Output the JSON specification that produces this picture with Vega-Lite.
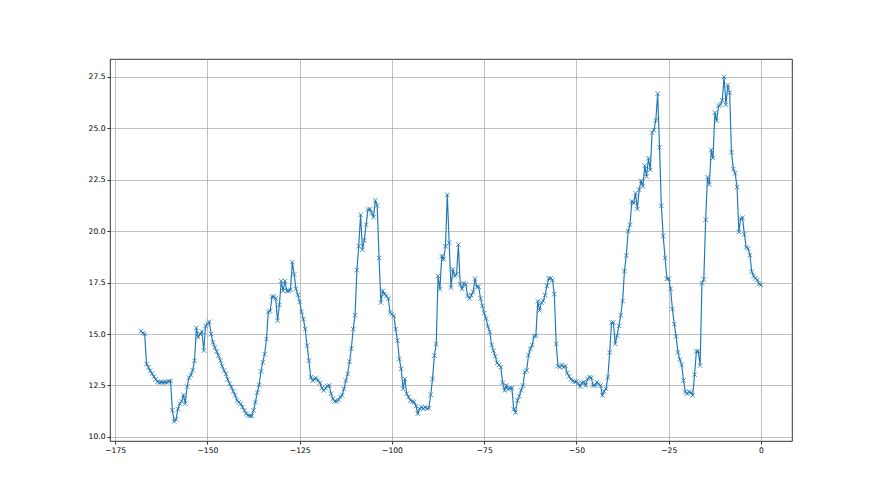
{
  "$schema": "https://vega.github.io/schema/vega-lite/v6.json",
  "width": 682,
  "height": 382,
  "autosize": {"type": "none"},
  "padding": {"left": 110, "top": 59, "right": 88, "bottom": 54},
  "background": "white",
  "config": {
    "view": {"stroke": "black", "strokeWidth": 0.8},
    "axis": {
      "labelFont": "DejaVu Sans",
      "labelFontSize": 7.6,
      "labelColor": "#000000",
      "tickColor": "#000000",
      "tickSize": 3,
      "tickWidth": 0.8,
      "gridColor": "#b0b0b0",
      "gridWidth": 0.8,
      "domain": false,
      "labelPadding": 2,
      "title": null
    }
  },
  "data": {
    "values": [
      {"x": -168, "y": 15.15}, {"x": -167.5, "y": 15.05}, {"x": -167, "y": 15.0}, {"x": -166.5, "y": 13.55}, {"x": -166, "y": 13.38}, {"x": -165.5, "y": 13.22}, {"x": -165, "y": 13.07}, {"x": -164.5, "y": 12.93}, {"x": -164, "y": 12.8}, {"x": -163.5, "y": 12.68}, {"x": -163, "y": 12.65}, {"x": -162.5, "y": 12.66}, {"x": -162, "y": 12.65}, {"x": -161.5, "y": 12.67}, {"x": -161, "y": 12.65}, {"x": -160.5, "y": 12.7}, {"x": -160, "y": 12.72}, {"x": -159.5, "y": 11.3}, {"x": -159, "y": 10.75}, {"x": -158.5, "y": 10.85}, {"x": -158, "y": 11.35}, {"x": -157.5, "y": 11.62}, {"x": -157, "y": 11.72}, {"x": -156.5, "y": 12.04}, {"x": -156, "y": 11.62}, {"x": -155.5, "y": 12.45}, {"x": -155, "y": 12.88}, {"x": -154.5, "y": 13.0}, {"x": -154, "y": 13.25}, {"x": -153.5, "y": 13.7}, {"x": -153, "y": 15.3}, {"x": -152.5, "y": 14.85}, {"x": -152, "y": 15.0}, {"x": -151.5, "y": 15.12}, {"x": -151, "y": 14.2}, {"x": -150.5, "y": 15.4}, {"x": -150, "y": 15.5}, {"x": -149.5, "y": 15.6}, {"x": -149, "y": 15.0}, {"x": -148.5, "y": 14.6}, {"x": -148, "y": 14.35}, {"x": -147.5, "y": 14.15}, {"x": -147, "y": 13.95}, {"x": -146.5, "y": 13.72}, {"x": -146, "y": 13.44}, {"x": -145.5, "y": 13.23}, {"x": -145, "y": 13.06}, {"x": -144.5, "y": 12.79}, {"x": -144, "y": 12.58}, {"x": -143.5, "y": 12.42}, {"x": -143, "y": 12.21}, {"x": -142.5, "y": 12.02}, {"x": -142, "y": 11.77}, {"x": -141.5, "y": 11.69}, {"x": -141, "y": 11.61}, {"x": -140.5, "y": 11.45}, {"x": -140, "y": 11.29}, {"x": -139.5, "y": 11.13}, {"x": -139, "y": 11.05}, {"x": -138.5, "y": 11.02}, {"x": -138, "y": 11.02}, {"x": -137.5, "y": 11.29}, {"x": -137, "y": 11.69}, {"x": -136.5, "y": 12.15}, {"x": -136, "y": 12.53}, {"x": -135.5, "y": 13.18}, {"x": -135, "y": 13.63}, {"x": -134.5, "y": 14.03}, {"x": -134, "y": 14.76}, {"x": -133.5, "y": 16.08}, {"x": -133, "y": 16.13}, {"x": -132.5, "y": 16.82}, {"x": -132, "y": 16.82}, {"x": -131.5, "y": 16.73}, {"x": -131, "y": 15.65}, {"x": -130.5, "y": 16.42}, {"x": -130, "y": 17.58}, {"x": -129.5, "y": 17.1}, {"x": -129, "y": 17.58}, {"x": -128.5, "y": 17.1}, {"x": -128, "y": 17.1}, {"x": -127.5, "y": 17.15}, {"x": -127, "y": 18.5}, {"x": -126.5, "y": 17.9}, {"x": -126, "y": 17.2}, {"x": -125.5, "y": 16.9}, {"x": -125, "y": 16.56}, {"x": -124.5, "y": 16.08}, {"x": -124, "y": 15.73}, {"x": -123.5, "y": 15.24}, {"x": -123, "y": 14.44}, {"x": -122.5, "y": 13.71}, {"x": -122, "y": 12.9}, {"x": -121.5, "y": 12.74}, {"x": -121, "y": 12.82}, {"x": -120.5, "y": 12.85}, {"x": -120, "y": 12.74}, {"x": -119.5, "y": 12.63}, {"x": -119, "y": 12.37}, {"x": -118.5, "y": 12.26}, {"x": -118, "y": 12.37}, {"x": -117.5, "y": 12.47}, {"x": -117, "y": 12.5}, {"x": -116.5, "y": 12.1}, {"x": -116, "y": 11.85}, {"x": -115.5, "y": 11.73}, {"x": -115, "y": 11.73}, {"x": -114.5, "y": 11.8}, {"x": -114, "y": 11.94}, {"x": -113.5, "y": 12.02}, {"x": -113, "y": 12.34}, {"x": -112.5, "y": 12.74}, {"x": -112, "y": 13.06}, {"x": -111.5, "y": 13.66}, {"x": -111, "y": 14.3}, {"x": -110.5, "y": 15.24}, {"x": -110, "y": 15.92}, {"x": -109.5, "y": 18.11}, {"x": -109, "y": 19.27}, {"x": -108.5, "y": 20.8}, {"x": -108, "y": 19.1}, {"x": -107.5, "y": 19.56}, {"x": -107, "y": 20.32}, {"x": -106.5, "y": 21.05}, {"x": -106, "y": 21.08}, {"x": -105.5, "y": 20.9}, {"x": -105, "y": 20.68}, {"x": -104.5, "y": 21.5}, {"x": -104, "y": 21.25}, {"x": -103.5, "y": 18.7}, {"x": -103, "y": 16.53}, {"x": -102.5, "y": 17.1}, {"x": -102, "y": 16.94}, {"x": -101.5, "y": 16.85}, {"x": -101, "y": 16.73}, {"x": -100.5, "y": 16.05}, {"x": -100, "y": 15.97}, {"x": -99.5, "y": 15.89}, {"x": -99, "y": 15.24}, {"x": -98.5, "y": 14.68}, {"x": -98, "y": 13.79}, {"x": -97.5, "y": 13.31}, {"x": -97, "y": 12.34}, {"x": -96.5, "y": 12.82}, {"x": -96, "y": 12.1}, {"x": -95.5, "y": 11.94}, {"x": -95, "y": 11.77}, {"x": -94.5, "y": 11.72}, {"x": -94, "y": 11.69}, {"x": -93.5, "y": 11.5}, {"x": -93, "y": 11.13}, {"x": -92.5, "y": 11.37}, {"x": -92, "y": 11.45}, {"x": -91.5, "y": 11.37}, {"x": -91, "y": 11.45}, {"x": -90.5, "y": 11.37}, {"x": -90, "y": 11.4}, {"x": -89.5, "y": 12.05}, {"x": -89, "y": 12.82}, {"x": -88.5, "y": 13.95}, {"x": -88, "y": 14.52}, {"x": -87.5, "y": 17.82}, {"x": -87, "y": 17.18}, {"x": -86.5, "y": 18.79}, {"x": -86, "y": 18.63}, {"x": -85.5, "y": 19.27}, {"x": -85, "y": 21.77}, {"x": -84.5, "y": 19.44}, {"x": -84, "y": 17.26}, {"x": -83.5, "y": 18.15}, {"x": -83, "y": 17.82}, {"x": -82.5, "y": 17.9}, {"x": -82, "y": 19.35}, {"x": -81.5, "y": 17.42}, {"x": -81, "y": 17.2}, {"x": -80.5, "y": 17.47}, {"x": -80, "y": 17.42}, {"x": -79.5, "y": 16.85}, {"x": -79, "y": 16.73}, {"x": -78.5, "y": 16.89}, {"x": -78, "y": 17.05}, {"x": -77.5, "y": 17.7}, {"x": -77, "y": 17.3}, {"x": -76.5, "y": 17.3}, {"x": -76, "y": 16.73}, {"x": -75.5, "y": 16.37}, {"x": -75, "y": 16.02}, {"x": -74.5, "y": 15.76}, {"x": -74, "y": 15.37}, {"x": -73.5, "y": 15.11}, {"x": -73, "y": 14.47}, {"x": -72.5, "y": 14.19}, {"x": -72, "y": 13.92}, {"x": -71.5, "y": 13.6}, {"x": -71, "y": 13.5}, {"x": -70.5, "y": 13.39}, {"x": -70, "y": 12.63}, {"x": -69.5, "y": 12.26}, {"x": -69, "y": 12.5}, {"x": -68.5, "y": 12.31}, {"x": -68, "y": 12.37}, {"x": -67.5, "y": 12.37}, {"x": -67, "y": 11.34}, {"x": -66.5, "y": 11.18}, {"x": -66, "y": 11.77}, {"x": -65.5, "y": 11.98}, {"x": -65, "y": 12.26}, {"x": -64.5, "y": 12.5}, {"x": -64, "y": 13.15}, {"x": -63.5, "y": 13.23}, {"x": -63, "y": 13.98}, {"x": -62.5, "y": 14.27}, {"x": -62, "y": 14.47}, {"x": -61.5, "y": 14.89}, {"x": -61, "y": 14.92}, {"x": -60.5, "y": 16.6}, {"x": -60, "y": 16.15}, {"x": -59.5, "y": 16.53}, {"x": -59, "y": 16.61}, {"x": -58.5, "y": 16.89}, {"x": -58, "y": 17.34}, {"x": -57.5, "y": 17.71}, {"x": -57, "y": 17.71}, {"x": -56.5, "y": 17.63}, {"x": -56, "y": 16.94}, {"x": -55.5, "y": 14.52}, {"x": -55, "y": 13.44}, {"x": -54.5, "y": 13.39}, {"x": -54, "y": 13.5}, {"x": -53.5, "y": 13.39}, {"x": -53, "y": 13.45}, {"x": -52.5, "y": 13.1}, {"x": -52, "y": 12.95}, {"x": -51.5, "y": 12.8}, {"x": -51, "y": 12.72}, {"x": -50.5, "y": 12.69}, {"x": -50, "y": 12.69}, {"x": -49.5, "y": 12.6}, {"x": -49, "y": 12.45}, {"x": -48.5, "y": 12.63}, {"x": -48, "y": 12.66}, {"x": -47.5, "y": 12.5}, {"x": -47, "y": 12.82}, {"x": -46.5, "y": 12.9}, {"x": -46, "y": 12.88}, {"x": -45.5, "y": 12.5}, {"x": -45, "y": 12.5}, {"x": -44.5, "y": 12.66}, {"x": -44, "y": 12.58}, {"x": -43.5, "y": 12.5}, {"x": -43, "y": 12.02}, {"x": -42.5, "y": 12.21}, {"x": -42, "y": 12.34}, {"x": -41.5, "y": 12.9}, {"x": -41, "y": 14.11}, {"x": -40.5, "y": 15.56}, {"x": -40, "y": 15.56}, {"x": -39.5, "y": 14.52}, {"x": -39, "y": 14.92}, {"x": -38.5, "y": 15.4}, {"x": -38, "y": 15.92}, {"x": -37.5, "y": 16.61}, {"x": -37, "y": 18.06}, {"x": -36.5, "y": 18.82}, {"x": -36, "y": 20.0}, {"x": -35.5, "y": 20.32}, {"x": -35, "y": 21.45}, {"x": -34.5, "y": 21.37}, {"x": -34, "y": 21.85}, {"x": -33.5, "y": 21.08}, {"x": -33, "y": 22.02}, {"x": -32.5, "y": 22.45}, {"x": -32, "y": 22.18}, {"x": -31.5, "y": 23.18}, {"x": -31, "y": 22.66}, {"x": -30.5, "y": 23.55}, {"x": -30, "y": 22.98}, {"x": -29.5, "y": 24.8}, {"x": -29, "y": 24.92}, {"x": -28.5, "y": 25.4}, {"x": -28, "y": 26.69}, {"x": -27.5, "y": 24.08}, {"x": -27, "y": 21.24}, {"x": -26.5, "y": 19.76}, {"x": -26, "y": 18.71}, {"x": -25.5, "y": 17.69}, {"x": -25, "y": 17.69}, {"x": -24.5, "y": 17.2}, {"x": -24, "y": 16.21}, {"x": -23.5, "y": 15.48}, {"x": -23, "y": 14.89}, {"x": -22.5, "y": 14.11}, {"x": -22, "y": 13.76}, {"x": -21.5, "y": 13.5}, {"x": -21, "y": 12.74}, {"x": -20.5, "y": 12.18}, {"x": -20, "y": 12.1}, {"x": -19.5, "y": 12.2}, {"x": -19, "y": 12.15}, {"x": -18.5, "y": 12.02}, {"x": -18, "y": 13.03}, {"x": -17.5, "y": 14.16}, {"x": -17, "y": 14.16}, {"x": -16.5, "y": 13.47}, {"x": -16, "y": 17.47}, {"x": -15.5, "y": 17.66}, {"x": -15, "y": 20.56}, {"x": -14.5, "y": 22.63}, {"x": -14, "y": 22.27}, {"x": -13.5, "y": 23.95}, {"x": -13, "y": 23.56}, {"x": -12.5, "y": 25.77}, {"x": -12, "y": 25.37}, {"x": -11.5, "y": 26.1}, {"x": -11, "y": 26.15}, {"x": -10.5, "y": 26.37}, {"x": -10, "y": 27.5}, {"x": -9.5, "y": 26.15}, {"x": -9, "y": 27.11}, {"x": -8.5, "y": 26.74}, {"x": -8, "y": 23.84}, {"x": -7.5, "y": 23.03}, {"x": -7, "y": 22.82}, {"x": -6.5, "y": 22.15}, {"x": -6, "y": 19.97}, {"x": -5.5, "y": 20.61}, {"x": -5, "y": 20.66}, {"x": -4.5, "y": 19.85}, {"x": -4, "y": 19.21}, {"x": -3.5, "y": 19.16}, {"x": -3, "y": 18.84}, {"x": -2.5, "y": 18.03}, {"x": -2, "y": 17.82}, {"x": -1.5, "y": 17.71}, {"x": -1, "y": 17.63}, {"x": -0.5, "y": 17.44}, {"x": 0, "y": 17.39}
    ]
  },
  "encoding": {
    "x": {
      "field": "x",
      "type": "quantitative",
      "scale": {"domain": [-176.4, 8.4], "nice": false, "zero": false},
      "axis": {"values": [-175, -150, -125, -100, -75, -50, -25, 0], "format": "d"}
    },
    "y": {
      "field": "y",
      "type": "quantitative",
      "scale": {"domain": [9.8, 28.375], "nice": false, "zero": false},
      "axis": {"values": [10, 12.5, 15, 17.5, 20, 22.5, 25, 27.5], "format": ".1f"}
    }
  },
  "layer": [
    {
      "mark": {"type": "line", "color": "#1f77b4", "strokeWidth": 1.15}
    },
    {
      "mark": {
        "type": "point",
        "shape": "M-1,-1L1,1M-1,1L1,-1",
        "filled": false,
        "stroke": "#1f77b4",
        "strokeWidth": 0.8,
        "size": 20,
        "opacity": 1
      }
    }
  ]
}
